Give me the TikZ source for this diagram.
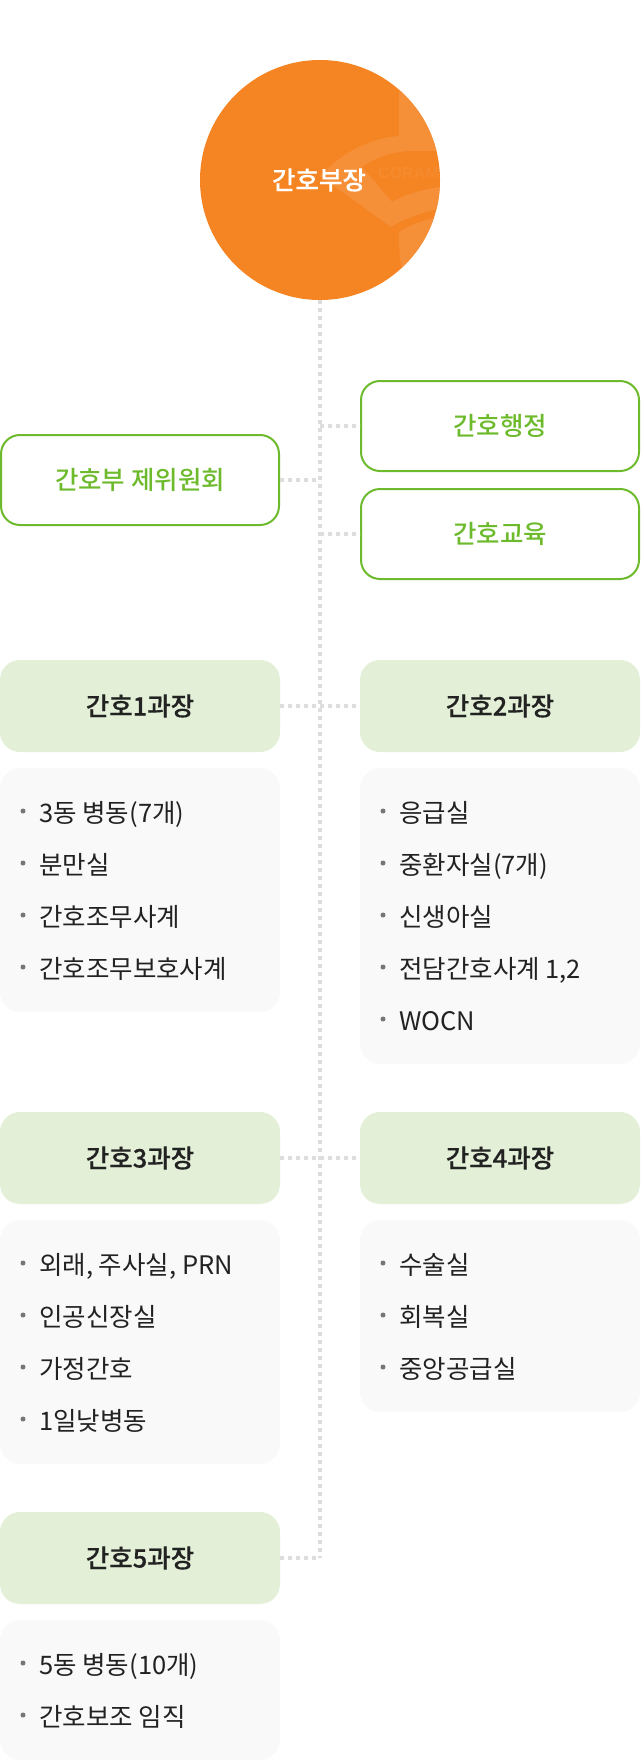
\documentclass[tikz,border=0pt]{standalone}
\usepackage{fontspec}
\setmainfont{Noto Sans CJK KR}[BoldFont={* Bold}]
\newfontfamily\medfont{Noto Sans CJK KR Medium}
\newfontfamily\semifont{Noto Sans CJK KR Medium}[FakeBold=0.35]
\newfontfamily\logofont{Liberation Sans}[BoldFont={* Bold}]
\definecolor{headorange}{HTML}{F58423}
\definecolor{markorange}{HTML}{F69038}
\definecolor{logotext}{HTML}{F68B2E}
\definecolor{leafgreen}{HTML}{6DBB2C}
\definecolor{palegreen}{HTML}{E3F0D7}
\definecolor{panelgray}{HTML}{F9F9F9}
\definecolor{inkdark}{HTML}{222222}
\definecolor{dotgray}{HTML}{DDDDDD}
\definecolor{bulletgray}{HTML}{777777}
\tikzset{
  lbl/.style={font=\medfont\fontsize{25.5}{25.5}\selectfont,text height=22pt,text depth=3pt,inner sep=0pt},
  outlinebox/.style={lbl,draw=leafgreen,line width=2pt,fill=white,rounded corners=19pt,
    minimum width=278pt,minimum height=90pt,text=leafgreen},
  headbox/.style={lbl,font=\semifont\fontsize{25.5}{25.5}\selectfont,fill=palegreen,rounded corners=20pt,minimum width=280pt,minimum height=92pt,text=inkdark},
  panel/.style={fill=panelgray,rounded corners=20pt,minimum width=280pt,inner sep=0pt},
  itemtext/.style={font=\fontsize{25.5}{25.5}\selectfont,text=inkdark,anchor=west,inner sep=0pt,text height=22pt,text depth=3pt},
  bulletdot/.style={circle,fill=bulletgray,minimum size=5pt,inner sep=0pt},
  dots/.style={draw=dotgray,line width=4pt,dash pattern=on 4pt off 4pt}
}
\newcommand\listitem[4]{%
  \node[bulletdot] (b#1) at (#2-16,#3) {};
  \node[itemtext] (t#1) at (#2,#3+1.5) {#4};
}
\begin{document}
\begin{tikzpicture}[x=1pt,y=-1pt]
\useasboundingbox (0,0) rectangle (640,1760);
% head circle and its watermark
\node[circle,fill=headorange,minimum size=240pt,inner sep=0pt] (head) at (320,180) {};
\begin{scope}
  \clip (320,180) circle [radius=120];
  \fill[markorange] (399,50) -- (399,136)
    .. controls (372,138) and (345,150) .. (320,176)
    -- (391,227) .. controls (405,218) and (425,211) .. (460,204)
    -- (460,185) .. controls (435,186) and (410,192) .. (392,202)
    -- (362,167) .. controls (378,155) and (400,150) .. (420,151)
    -- (460,151) -- (460,50) -- cycle;
  \fill[markorange] (399,232) .. controls (412,224) and (425,219) .. (460,212)
    -- (460,310) -- (412,310) .. controls (404,285) and (398,258) .. (399,232) -- cycle;
  \node[font=\logofont\bfseries\fontsize{16}{16}\selectfont,text=logotext,anchor=west,inner sep=0pt] (logo) at (378,173) {CORAM};
\end{scope}
\node[lbl,text=white,font=\semifont\fontsize{25.5}{25.5}\selectfont] (headtext) at (319,180) {간호부장};
% outlined boxes
\node[outlinebox] (admin) at (500,426) {간호행정};
\node[outlinebox] (edu) at (500,534) {간호교육};
\node[outlinebox] (comm) at (140,480) {간호부 제위원회};
% section heads
\node[headbox] (s1) at (140,706) {간호1과장};
\node[headbox] (s2) at (500,706) {간호2과장};
\node[headbox] (s3) at (140,1158) {간호3과장};
\node[headbox] (s4) at (500,1158) {간호4과장};
\node[headbox] (s5) at (140,1558) {간호5과장};
% connectors
\coordinate (end) at (320,1558);
\coordinate (j1) at (320,426);
\coordinate (j2) at (320,480);
\coordinate (j3) at (320,534);
\coordinate (j4) at (320,706);
\coordinate (j5) at (320,1158);
\draw[dots] (head.south) -- (end);
\draw[dots] (j1) -- (admin.west);
\draw[dots] (j3) -- (edu.west);
\draw[dots] (comm.east) -- (j2);
\draw[dots] (s1.east) -- (s2.west);
\draw[dots] (s3.east) -- (s4.west);
\draw[dots] (s5.east) -- (end);
% panels
\node[panel,minimum height=244pt] (p1) at (140,890) {};
\node[panel,minimum height=296pt] (p2) at (500,916) {};
\node[panel,minimum height=244pt] (p3) at (140,1342) {};
\node[panel,minimum height=192pt] (p4) at (500,1316) {};
\node[panel,minimum height=140pt] (p5) at (140,1690) {};
% list items
\listitem{a1}{39}{811}{3동 병동(7개)}
\listitem{a2}{39}{863}{분만실}
\listitem{a3}{39}{915}{간호조무사계}
\listitem{a4}{39}{967}{간호조무보호사계}
\listitem{b1}{399}{811}{응급실}
\listitem{b2}{399}{863}{중환자실(7개)}
\listitem{b3}{399}{915}{신생아실}
\listitem{b4}{399}{967}{전담간호사계 1,2}
\listitem{b5}{399}{1019}{WOCN}
\listitem{c1}{39}{1263}{외래, 주사실, PRN}
\listitem{c2}{39}{1315}{인공신장실}
\listitem{c3}{39}{1367}{가정간호}
\listitem{c4}{39}{1419}{1일낮병동}
\listitem{d1}{399}{1263}{수술실}
\listitem{d2}{399}{1315}{회복실}
\listitem{d3}{399}{1367}{중앙공급실}
\listitem{e1}{39}{1663}{5동 병동(10개)}
\listitem{e2}{39}{1715}{간호보조 임직}
\end{tikzpicture}
\end{document}
